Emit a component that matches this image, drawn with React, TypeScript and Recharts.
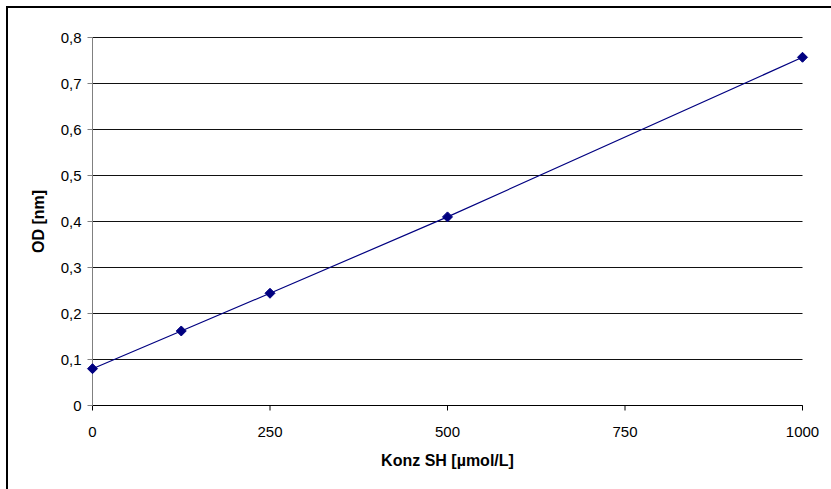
import { LineChart, Line, XAxis, YAxis, CartesianGrid } from 'recharts'

// ─── Data ─────────────────────────────────────────────────────────────────────

const konz = [0, 125, 250, 500, 1000]
const od = [0.08, 0.162, 0.244, 0.41, 0.757]
const xTicks = [0, 250, 500, 750, 1000]
const yTicks = [0, 0.1, 0.2, 0.3, 0.4, 0.5, 0.6, 0.7, 0.8]

const data = konz.map((k, i) => ({ konz: k, od: od[i] }))

const FONT = '"Liberation Sans", Arial, sans-serif'

function fmtY(v: number): string {
  return v === 0 ? '0' : v.toFixed(1).replace('.', ',')
}

// ─── Ticks & marker ───────────────────────────────────────────────────────────

function XTick({ x, y, payload }: { x?: number; y?: number; payload?: { value: number } }) {
  return (
    <text x={x} y={(y ?? 0) + 22} textAnchor="middle" fontSize={15} fontFamily={FONT} fill="#000">
      {payload?.value}
    </text>
  )
}

function YTick({ x, y, payload }: { x?: number; y?: number; payload?: { value: number } }) {
  return (
    <text x={x} y={(y ?? 0) + 5} textAnchor="end" fontSize={15} fontFamily={FONT} fill="#000">
      {fmtY(payload?.value ?? 0)}
    </text>
  )
}

function Diamond({ cx, cy }: { cx?: number; cy?: number }) {
  if (cx == null || cy == null) return null
  const r = 5
  return (
    <polygon
      points={`${cx},${cy - r} ${cx + r},${cy} ${cx},${cy + r} ${cx - r},${cy}`}
      fill="#000080"
      stroke="#000080"
    />
  )
}

// ─── Component ────────────────────────────────────────────────────────────────

export default function App() {
  return (
    <div
      style={{
        position: 'absolute',
        left: 6,
        top: 6,
        width: 825,
        height: 483,
        boxSizing: 'border-box',
        borderTop: '2px solid #000',
        borderLeft: '2px solid #000',
        background: '#fff',
        fontFamily: FONT,
        overflow: 'hidden',
      }}
    >
      <LineChart
        width={823}
        height={481}
        data={data}
        margin={{ top: 29.5, right: 28.5, left: 24.5, bottom: 23.5 }}
      >
        <CartesianGrid horizontal vertical={false} stroke="#111" strokeWidth={1} />
        <XAxis
          dataKey="konz"
          type="number"
          domain={[0, 1000]}
          ticks={xTicks}
          interval={0}
          height={60}
          axisLine={{ stroke: '#000' }}
          tickLine={{ stroke: '#000' }}
          tickSize={5}
          tickMargin={4}
          tick={<XTick />}
          label={{
            value: 'Konz SH [µmol/L]',
            position: 'insideBottom',
            offset: 0,
            style: { fontSize: 16, fontWeight: 'bold', fill: '#000', fontFamily: FONT },
          }}
        />
        <YAxis
          type="number"
          domain={[0, 0.8]}
          ticks={yTicks}
          interval={0}
          width={60}
          axisLine={{ stroke: '#808080' }}
          tickLine={{ stroke: '#808080' }}
          tickSize={5}
          tickMargin={6}
          tick={<YTick />}
          label={{
            value: 'OD [nm]',
            angle: -90,
            position: 'insideLeft',
            offset: 6,
            style: { fontSize: 16, fontWeight: 'bold', fill: '#000', fontFamily: FONT, textAnchor: 'middle' },
          }}
        />
        <Line
          dataKey="od"
          type="linear"
          stroke="#000080"
          strokeWidth={1.2}
          dot={<Diamond />}
          activeDot={false}
          isAnimationActive={false}
        />
      </LineChart>
    </div>
  )
}
